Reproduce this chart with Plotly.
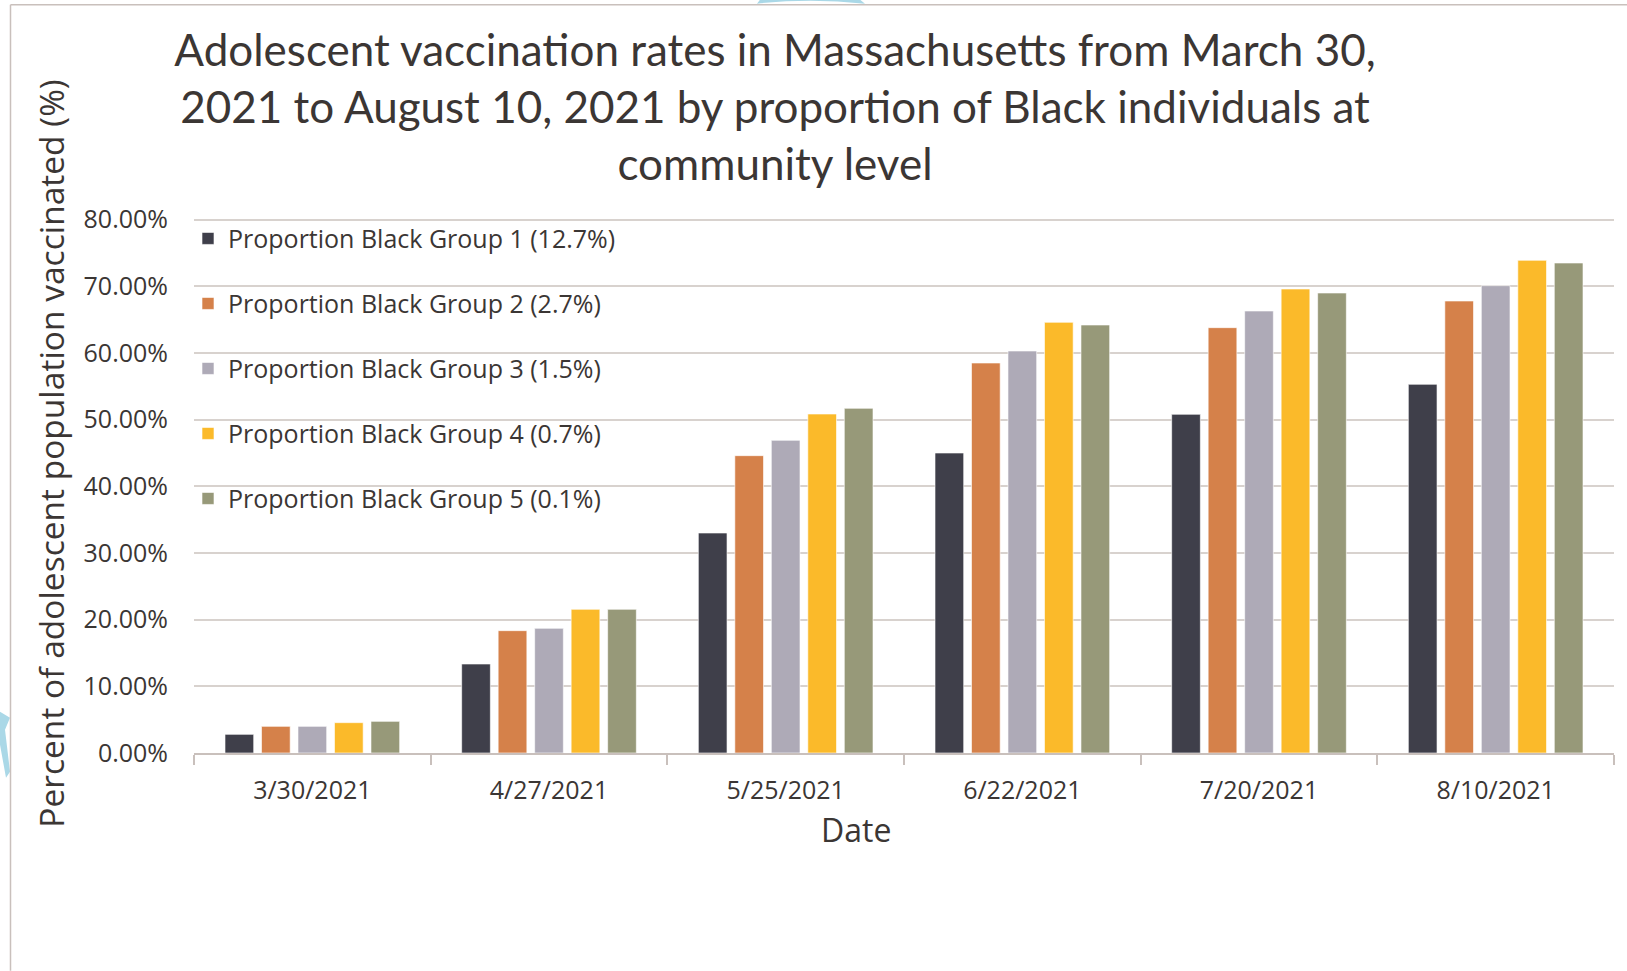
import plotly.graph_objects as go

# ---- data ----
dates = ["3/30/2021", "4/27/2021", "5/25/2021", "6/22/2021", "7/20/2021", "8/10/2021"]
group_names = [
    "Proportion Black Group 1 (12.7%)",
    "Proportion Black Group 2 (2.7%)",
    "Proportion Black Group 3 (1.5%)",
    "Proportion Black Group 4 (0.7%)",
    "Proportion Black Group 5 (0.1%)",
]
group1 = [2.8, 13.35, 33.0, 45.0, 50.8, 55.3]
group2 = [4.0, 18.35, 44.6, 58.5, 63.8, 67.8]
group3 = [4.0, 18.7, 46.9, 60.3, 66.3, 70.1]
group4 = [4.55, 21.55, 50.85, 64.6, 69.6, 73.9]
group5 = [4.75, 21.55, 51.7, 64.2, 69.0, 73.5]
series = [group1, group2, group3, group4, group5]
colors = ["#3f3f4a", "#d5814a", "#aeaab7", "#fbba2a", "#979979"]

y_tick_vals = [0, 10, 20, 30, 40, 50, 60, 70, 80]
y_tick_text = ["0.00%", "10.00%", "20.00%", "30.00%", "40.00%",
               "50.00%", "60.00%", "70.00%", "80.00%"]

title_text = ("Adolescent vaccination rates in Massachusetts from March 30,<br>"
              "2021 to August 10, 2021 by proportion of Black individuals at<br>"
              "community level")
y_title = "Percent of adolescent population vaccinated (%)"
x_title = "Date"

# ---- geometry (pixels) ----
W, H = 1627, 971
YMAX = 80.4
L, R, B = 194, 1614, 753.3
T = B - (B - 220) * YMAX / 80.0
PW, PH = R - L, B - T

def px(x):
    return (x - L) / PW

def py(y):
    return (B - y) / PH

txt = "#3b3634"
frame = "#c9c0bc"
grid = "#d8d2ce"

fig = go.Figure()
legend_rows = [239, 304, 369, 434, 499]
for i, (name, vals, col) in enumerate(zip(group_names, series, colors)):
    lg = "legend" if i == 0 else f"legend{i+1}"
    fig.add_trace(go.Bar(
        x=dates, y=vals, name=name,
        marker=dict(color=col, line=dict(color="rgba(255,255,255,0.6)", width=1)),
        legend=lg,
    ))

legend_common = dict(
    xanchor="left", yanchor="middle", bgcolor="rgba(0,0,0,0)",
    font=dict(family="Open Sans", size=25, color=txt),
    itemwidth=30, borderwidth=0,
)
layout_legends = {}
for i, yy in enumerate(legend_rows):
    key = "legend" if i == 0 else f"legend{i+1}"
    layout_legends[key] = dict(x=px(188), y=py(yy), **legend_common)

fig.update_layout(
    width=W, height=H,
    margin=dict(l=L, r=W - R, t=T, b=H - B, pad=0),
    paper_bgcolor="white", plot_bgcolor="white",
    barmode="group", bargap=0.229, bargroupgap=0.214,
    title=dict(
        text=title_text, xref="container", yref="container",
        x=775 / W, xanchor="center", y=1 - 66 / H, yanchor="top",
        font=dict(family="Lato", size=44, color=txt),
    ),
    xaxis=dict(
        type="category", showgrid=False, showline=True, linecolor=frame, linewidth=1.5,
        ticks="outside", tickson="boundaries", ticklen=10, tickcolor=frame, tickwidth=1.5,
        tickfont=dict(family="Open Sans", size=25, color=txt),
        ticklabelstandoff=14,
    ),
    yaxis=dict(
        range=[0, YMAX], tickmode="array", tickvals=y_tick_vals, ticktext=y_tick_text,
        showgrid=True, gridcolor=grid, gridwidth=1.5, zeroline=False, showline=False,
        ticks="", tickfont=dict(family="Open Sans", size=25, color=txt),
        ticklabelstandoff=25,
    ),
    showlegend=True,
    **layout_legends,
)

fig.add_annotation(
    text=y_title, xref="paper", yref="paper", x=px(51), y=py(454),
    xanchor="center", yanchor="middle", textangle=-90, showarrow=False,
    font=dict(family="Open Sans", size=33.5, color=txt),
)
fig.add_annotation(
    text=x_title, xref="paper", yref="paper", x=px(856), y=py(830),
    xanchor="center", yanchor="middle", showarrow=False,
    font=dict(family="Open Sans", size=32, color=txt),
)

# frame lines
fig.add_shape(type="line", xref="paper", yref="paper", x0=px(10.5), x1=px(W), y0=py(5), y1=py(5),
              line=dict(color=frame, width=1.5), layer="above")
fig.add_shape(type="line", xref="paper", yref="paper", x0=px(10.5), x1=px(10.5), y0=py(5), y1=py(H),
              line=dict(color=frame, width=1.5), layer="above")

# faint watermark fragments
wm = "#aad8e7"
fig.add_shape(type="path", xref="paper", yref="paper",
              path=f"M {px(757)},{py(4)} Q {px(810)},{py(-2)} {px(865)},{py(4)} L {px(860)},{py(0)} L {px(760)},{py(0)} Z",
              fillcolor=wm, line=dict(width=0), layer="below")
fig.add_shape(type="path", xref="paper", yref="paper",
              path=(f"M {px(0)},{py(712)} L {px(10)},{py(718)} L {px(5)},{py(730)} "
                    f"L {px(10)},{py(772)} L {px(6)},{py(778)} L {px(0)},{py(745)} Z"),
              fillcolor=wm, line=dict(width=0), layer="below")

fig.write_html("out.html", config={"displayModeBar": False},
               post_script="document.body.style.margin='0';")
